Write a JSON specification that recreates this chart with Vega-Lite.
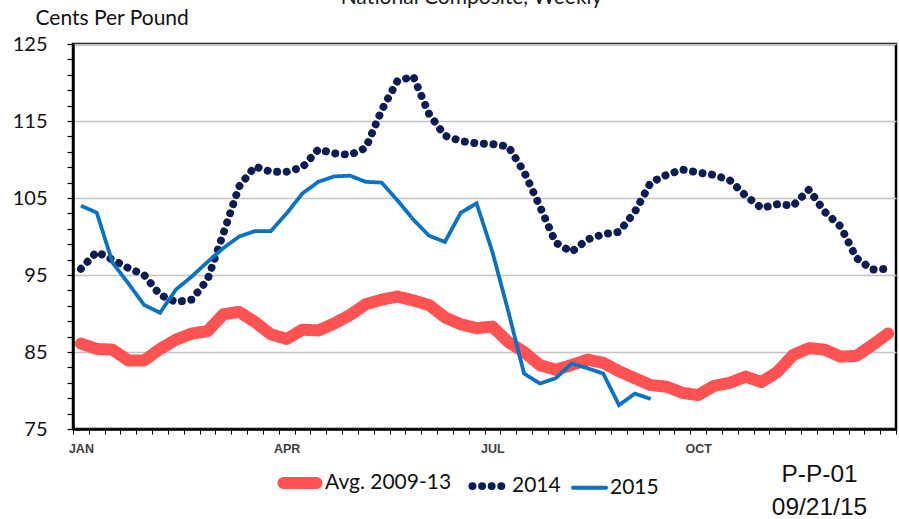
{
  "$schema": "https://vega.github.io/schema/vega-lite/v6.json",
  "autosize": "none",
  "width": 823,
  "height": 385,
  "padding": {"left": 73, "top": 44, "right": 3, "bottom": 90},
  "background": "white",
  "title": {"text": "National Composite, Weekly", "frame": "group", "orient": "top", "anchor": "middle", "baseline": "alphabetic", "offset": -18, "dx": -13, "font": "Lato", "fontSize": 21, "fontWeight": "normal", "color": "#1a1a1a"},
  "config": {"view": {"stroke": "black", "strokeWidth": 2.5}},
  "datasets": {
    "rows": [
      {"week":1,"series":"Avg. 2009-13","value":86.1},{"week":2,"series":"Avg. 2009-13","value":85.4},{"week":3,"series":"Avg. 2009-13","value":85.3},{"week":4,"series":"Avg. 2009-13","value":83.9},{"week":5,"series":"Avg. 2009-13","value":83.9},{"week":6,"series":"Avg. 2009-13","value":85.4},{"week":7,"series":"Avg. 2009-13","value":86.6},{"week":8,"series":"Avg. 2009-13","value":87.4},{"week":9,"series":"Avg. 2009-13","value":87.7},{"week":10,"series":"Avg. 2009-13","value":89.9},{"week":11,"series":"Avg. 2009-13","value":90.2},{"week":12,"series":"Avg. 2009-13","value":88.9},{"week":13,"series":"Avg. 2009-13","value":87.3},{"week":14,"series":"Avg. 2009-13","value":86.7},{"week":15,"series":"Avg. 2009-13","value":87.9},{"week":16,"series":"Avg. 2009-13","value":87.8},{"week":17,"series":"Avg. 2009-13","value":88.7},{"week":18,"series":"Avg. 2009-13","value":89.8},{"week":19,"series":"Avg. 2009-13","value":91.2},{"week":20,"series":"Avg. 2009-13","value":91.8},{"week":21,"series":"Avg. 2009-13","value":92.2},{"week":22,"series":"Avg. 2009-13","value":91.7},{"week":23,"series":"Avg. 2009-13","value":91.1},{"week":24,"series":"Avg. 2009-13","value":89.5},{"week":25,"series":"Avg. 2009-13","value":88.6},{"week":26,"series":"Avg. 2009-13","value":88.1},{"week":27,"series":"Avg. 2009-13","value":88.3},{"week":28,"series":"Avg. 2009-13","value":86.3},{"week":29,"series":"Avg. 2009-13","value":85.0},{"week":30,"series":"Avg. 2009-13","value":83.3},{"week":31,"series":"Avg. 2009-13","value":82.7},{"week":32,"series":"Avg. 2009-13","value":83.3},{"week":33,"series":"Avg. 2009-13","value":84.0},{"week":34,"series":"Avg. 2009-13","value":83.6},{"week":35,"series":"Avg. 2009-13","value":82.5},{"week":36,"series":"Avg. 2009-13","value":81.6},{"week":37,"series":"Avg. 2009-13","value":80.7},{"week":38,"series":"Avg. 2009-13","value":80.5},{"week":39,"series":"Avg. 2009-13","value":79.7},{"week":40,"series":"Avg. 2009-13","value":79.4},{"week":41,"series":"Avg. 2009-13","value":80.6},{"week":42,"series":"Avg. 2009-13","value":81.0},{"week":43,"series":"Avg. 2009-13","value":81.8},{"week":44,"series":"Avg. 2009-13","value":81.1},{"week":45,"series":"Avg. 2009-13","value":82.4},{"week":46,"series":"Avg. 2009-13","value":84.6},{"week":47,"series":"Avg. 2009-13","value":85.5},{"week":48,"series":"Avg. 2009-13","value":85.3},{"week":49,"series":"Avg. 2009-13","value":84.4},{"week":50,"series":"Avg. 2009-13","value":84.5},{"week":51,"series":"Avg. 2009-13","value":85.9},{"week":52,"series":"Avg. 2009-13","value":87.4},
      {"week":1,"series":"2014","value":95.8},{"week":2,"series":"2014","value":98.0},{"week":3,"series":"2014","value":97.0},{"week":4,"series":"2014","value":95.9},{"week":5,"series":"2014","value":95.0},{"week":6,"series":"2014","value":92.4},{"week":7,"series":"2014","value":91.5},{"week":8,"series":"2014","value":91.8},{"week":9,"series":"2014","value":94.4},{"week":10,"series":"2014","value":100.4},{"week":11,"series":"2014","value":106.5},{"week":12,"series":"2014","value":109.1},{"week":13,"series":"2014","value":108.4},{"week":14,"series":"2014","value":108.4},{"week":15,"series":"2014","value":109.0},{"week":16,"series":"2014","value":111.3},{"week":17,"series":"2014","value":110.8},{"week":18,"series":"2014","value":110.6},{"week":19,"series":"2014","value":111.5},{"week":20,"series":"2014","value":116.4},{"week":21,"series":"2014","value":120.2},{"week":22,"series":"2014","value":120.8},{"week":23,"series":"2014","value":115.9},{"week":24,"series":"2014","value":113.1},{"week":25,"series":"2014","value":112.4},{"week":26,"series":"2014","value":112.1},{"week":27,"series":"2014","value":112.0},{"week":28,"series":"2014","value":111.7},{"week":29,"series":"2014","value":108.4},{"week":30,"series":"2014","value":103.9},{"week":31,"series":"2014","value":99.2},{"week":32,"series":"2014","value":98.0},{"week":33,"series":"2014","value":99.6},{"week":34,"series":"2014","value":100.3},{"week":35,"series":"2014","value":100.6},{"week":36,"series":"2014","value":103.2},{"week":37,"series":"2014","value":107.0},{"week":38,"series":"2014","value":108.0},{"week":39,"series":"2014","value":108.7},{"week":40,"series":"2014","value":108.3},{"week":41,"series":"2014","value":108.0},{"week":42,"series":"2014","value":107.3},{"week":43,"series":"2014","value":105.3},{"week":44,"series":"2014","value":103.7},{"week":45,"series":"2014","value":104.2},{"week":46,"series":"2014","value":104.0},{"week":47,"series":"2014","value":106.1},{"week":48,"series":"2014","value":103.2},{"week":49,"series":"2014","value":101.3},{"week":50,"series":"2014","value":97.2},{"week":51,"series":"2014","value":95.7},{"week":52,"series":"2014","value":95.8},
      {"week":1,"series":"2015","value":104.0},{"week":2,"series":"2015","value":103.1},{"week":3,"series":"2015","value":96.6},{"week":4,"series":"2015","value":93.9},{"week":5,"series":"2015","value":91.1},{"week":6,"series":"2015","value":90.1},{"week":7,"series":"2015","value":93.1},{"week":8,"series":"2015","value":94.8},{"week":9,"series":"2015","value":96.7},{"week":10,"series":"2015","value":98.5},{"week":11,"series":"2015","value":100.0},{"week":12,"series":"2015","value":100.7},{"week":13,"series":"2015","value":100.7},{"week":14,"series":"2015","value":103.0},{"week":15,"series":"2015","value":105.6},{"week":16,"series":"2015","value":107.1},{"week":17,"series":"2015","value":107.8},{"week":18,"series":"2015","value":107.9},{"week":19,"series":"2015","value":107.1},{"week":20,"series":"2015","value":107.0},{"week":21,"series":"2015","value":104.7},{"week":22,"series":"2015","value":102.2},{"week":23,"series":"2015","value":100.1},{"week":24,"series":"2015","value":99.3},{"week":25,"series":"2015","value":103.1},{"week":26,"series":"2015","value":104.3},{"week":27,"series":"2015","value":98.0},{"week":28,"series":"2015","value":90.3},{"week":29,"series":"2015","value":82.2},{"week":30,"series":"2015","value":80.9},{"week":31,"series":"2015","value":81.6},{"week":32,"series":"2015","value":83.5},{"week":33,"series":"2015","value":82.9},{"week":34,"series":"2015","value":82.2},{"week":35,"series":"2015","value":78.1},{"week":36,"series":"2015","value":79.6},{"week":37,"series":"2015","value":78.9}
    ]
  },
  "data": {"name": "rows"},
  "encoding": {
    "x": {
      "field": "week", "type": "ordinal",
      "scale": {"type": "band", "paddingInner": 0, "paddingOuter": 0},
      "axis": {
        "tickBand": "extent",
        "labelExpr": "datum.value == 1 ? 'JAN' : datum.value == 14 ? 'APR' : datum.value == 27 ? 'JUL' : datum.value == 40 ? 'OCT' : ''",
        "labelAngle": 0, "labelOverlap": false,
        "labelFont": "Liberation Sans, Arial", "labelFontSize": 12.5, "labelFontWeight": "bold", "labelColor": "#404040",
        "labelPadding": 8,
        "tickSize": 5, "tickColor": "black", "tickWidth": 1,
        "domainColor": "black", "domainWidth": 2.5, "grid": false,
        "title": ["P-P-01", "09/21/15"],
        "titleFont": "Liberation Sans, Arial", "titleFontSize": 24.5, "titleFontWeight": "normal", "titleColor": "#111",
        "titleLineHeight": 33.5, "titleAlign": "center", "titleBaseline": "alphabetic", "titleAnchor": null,
        "titleX": 746, "titleY": 52
      }
    },
    "y": {
      "field": "value", "type": "quantitative",
      "scale": {"domain": [75, 125], "nice": false, "zero": false},
      "axis": {
        "values": [75,77,79,81,83,85,87,89,91,93,95,97,99,101,103,105,107,109,111,113,115,117,119,121,123,125],
        "labelExpr": "(datum.value - 75) % 10 == 0 ? datum.value : ''",
        "labelOverlap": false,
        "labelFont": "Lato", "labelFontSize": 20, "labelColor": "#111", "labelPadding": 20,
        "tickSize": 6, "tickColor": "black", "tickWidth": 1.2,
        "domainColor": "black", "domainWidth": 2.5,
        "grid": true, "gridColor": "#C4C4C4", "gridWidth": 1.5,
        "gridOpacity": {"condition": {"test": "(datum.value - 75) % 10 == 0", "value": 1}, "value": 0},
        "title": "Cents Per Pound", "titleAngle": 0, "titleAlign": "left", "titleBaseline": "alphabetic",
        "titleX": -38, "titleY": -20, "titleFont": "Lato", "titleFontSize": 21, "titleFontWeight": "normal", "titleColor": "#111"
      }
    },
    "color": {
      "field": "series", "type": "nominal",
      "scale": {"domain": ["Avg. 2009-13", "2014", "2015"], "range": ["#FF5353", "#0D1C52", "#0A72C2"]},
      "legend": {"orient": "none", "legendX": 204, "legendY": 416, "direction": "horizontal", "title": null, "symbolType": "stroke", "symbolSize": 1100, "labelFont": "Lato", "labelFontSize": 21, "labelColor": "#111", "labelOffset": 2, "columnPadding": 4, "labelBaseline": "middle", "encode": {"symbols": {"update": {"strokeCap": {"value": "round"}, "strokeWidth": {"signal": "datum.value == 'Avg. 2009-13' ? 10 : 4"}}}}}
    },
    "strokeDash": {
      "field": "series", "type": "nominal",
      "scale": {"domain": ["Avg. 2009-13", "2014", "2015"], "range": [[1, 0], [0.1, 9.5], [1, 0]]},
      "legend": {"orient": "none", "legendX": 204, "legendY": 416, "direction": "horizontal", "title": null, "symbolType": "stroke", "symbolSize": 1100, "labelFont": "Lato", "labelFontSize": 21, "labelColor": "#111", "labelOffset": 2, "columnPadding": 4, "labelBaseline": "middle", "encode": {"symbols": {"update": {"strokeCap": {"value": "round"}, "strokeWidth": {"signal": "datum.value == 'Avg. 2009-13' ? 10 : 4"}}}}}
    },
    "strokeWidth": {
      "field": "series", "type": "nominal",
      "scale": {"domain": ["Avg. 2009-13", "2014", "2015"], "range": [12, 3.8, 4]},
      "legend": null
    }
  },
  "layer": [
    {"transform": [{"filter": "datum.series == 'Avg. 2009-13'"}], "mark": {"type": "line", "strokeCap": "round", "strokeJoin": "round"}},
    {"transform": [{"filter": "datum.series == '2014'"}], "mark": {"type": "line", "strokeCap": "round", "strokeJoin": "round"}},
    {"transform": [{"filter": "datum.series == '2015'"}], "mark": {"type": "line", "strokeCap": "butt", "strokeJoin": "miter"}}
  ]
}
